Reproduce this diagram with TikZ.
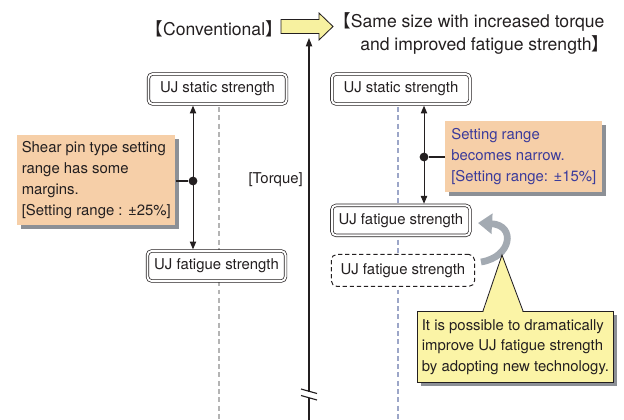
\documentclass[tikz,border=0pt]{standalone}
\usepackage{fontspec}
\setmainfont{TeX Gyre Heros}
\newfontfamily\cjk{Noto Sans CJK JP}
\usetikzlibrary{positioning,shadows,arrows.meta}
\definecolor{inkblack}{HTML}{231F20}
\definecolor{notefill}{HTML}{F6CFA8}
\definecolor{notetext}{HTML}{3B3B9B}
\definecolor{callfill}{HTML}{FBF4A6}
\definecolor{arrowfill}{HTML}{F7F1A0}
\definecolor{shadowgray}{HTML}{8C9096}
\definecolor{gridgray}{HTML}{B4B4B4}
\definecolor{gridblue}{HTML}{9CA6C8}
\definecolor{turngray}{HTML}{A3AAB2}
\newcommand{\LBr}{{\cjk 【}}
\newcommand{\RBr}{{\cjk 】}}
\newcommand{\ujfont}{\fontsize{10.6}{15}\selectfont}
\newcommand{\ujtitle}{\fontsize{12.5}{15}\selectfont}
\tikzset{
  ujbox/.style={draw=inkblack, line width=0.5pt, double=white, double distance=1.4pt,
    rounded corners=3pt, fill=white, minimum width=3.45cm, minimum height=0.75cm,
    inner sep=0pt, outer sep=1.2pt, text=inkblack},
  ujdash/.style={draw=inkblack, line width=0.7pt, dash pattern=on 3pt off 2pt,
    rounded corners=4pt, fill=white, minimum width=3.58cm, minimum height=0.8cm,
    inner sep=0pt, text=inkblack},
  note/.style={fill=notefill, anchor=north west, align=left, text=inkblack, inner sep=0pt,
    drop shadow={shadow xshift=0.9mm, shadow yshift=-0.9mm, fill=shadowgray, opacity=1}},
  callout/.style={note, fill=callfill, draw=inkblack, line width=0.6pt},
  titletext/.style={font=\ujtitle, inner sep=0pt, text=inkblack},
  gridline/.style={line width=1.1pt, dash pattern=on 3.5pt off 2.4pt},
  spanarrow/.style={inkblack, line width=0.7pt, {Triangle[length=5.5pt,width=4.5pt]}-{Triangle[length=5.5pt,width=4.5pt]}},
  linkline/.style={inkblack, line width=2pt},
  knot/.style={circle, fill=inkblack, inner sep=0pt, minimum size=0.22cm}
}
\begin{document}
\begin{tikzpicture}[x=0.025cm, y=-0.025cm, font=\ujfont]
  \useasboundingbox (0,0) rectangle (624,420);

  % Grid lines and axis
  \draw[gridline, gridgray] (219,107) -- (219,420);
  \draw[gridline, gridblue] (398,107) -- (398,420);
  \draw[inkblack, line width=0.8pt] (309,420) -- (309,397.5);
  \draw[inkblack, line width=0.8pt, -{Triangle[length=6pt,width=4.5pt]}] (309,391.5) -- (309,38);
  \draw[inkblack, line width=0.8pt] (301,389) -- (317,393.5);
  \draw[inkblack, line width=0.8pt] (301,395.5) -- (317,400);

  % Define nodes
  \node[titletext, anchor=base east] (Tc) at (283,36) {\LBr Conventional\RBr};
  \node[titletext, anchor=base west] (Tn) at (333,28) {\LBr Same size with increased torque};
  \node[titletext, anchor=base west] (Tn2) at (360,51) {and improved fatigue strength\RBr};
  \draw[inkblack, line width=0.6pt, fill=arrowfill]
    (281,19.5) -- (319,19.5) -- (319,13) -- (333,26.5) -- (319,40) -- (319,33.5) -- (281,33.5) -- cycle;
  \node[anchor=east, inner sep=0pt, text=inkblack] (T) at (303,180) {[Torque]};

  \node[ujbox] (S) at (217.5,89) {UJ static strength};
  \node[ujbox] (F) at (216.5,266) {UJ fatigue strength};
  \node[ujbox, right=1.05cm of S] (S2) {UJ static strength};
  \node[ujbox, below=2.45cm of S2] (F2) {UJ fatigue strength};
  \node[ujdash, below=0.42cm of F2, xshift=0.05cm] (F2d) {UJ fatigue strength};

  \node[note, minimum width=3.95cm, minimum height=2.25cm] (N) at (17,135)
    {Shear pin type setting\\range has some\\margins.\\{}[Setting range : ±25\%]};
  \node[note, text=notetext, minimum width=3.925cm, minimum height=1.775cm] (N2) at (445,121)
    {Setting range\phantom{: ±15\%]}\\becomes narrow.\\{}[Setting range: ±15\%]};
  \node[callout, minimum width=4.9cm, minimum height=1.775cm,
    font=\fontsize{10.6}{14.5}\selectfont] (C) at (417,311)
    {It is possible to dramatically\\improve UJ fatigue strength\\by adopting new technology.};

  \node[knot] (D) at (193,181) {};
  \node[knot] (D2) at (424,157) {};
  \coordinate (tip) at (502,255);
  \coordinate (up0) at (481,262);
  \coordinate (up1) at (478,223);

  % Connect the nodes
  \draw[spanarrow] (D |- S.south) -- (D |- F.north);
  \draw[spanarrow] (D2 |- S2.south) -- (D2 |- F2.north);
  \draw[linkline] (N.east |- D) -- (D);
  \draw[linkline] (N2.west |- D2) -- (D2);
  \draw[turngray, line width=4.8pt, -{Triangle[length=10pt,width=14pt]}]
    (up0) .. controls (512,257) and (516,225) .. (up1);

  % Callout pointer
  \fill[callfill] (483,313) -- (tip) -- (523,313) -- cycle;
  \draw[inkblack, line width=0.6pt] (483,311) -- (tip) -- (523,311);
\end{tikzpicture}
\end{document}
